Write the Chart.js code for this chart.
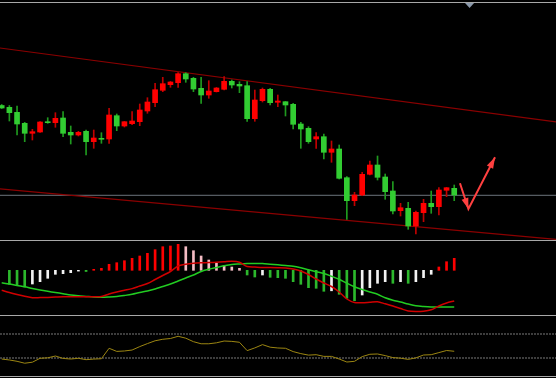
<!DOCTYPE html>
<html><head><meta charset="utf-8">
<script src="https://cdn.jsdelivr.net/npm/chart.js@4.4.0/dist/chart.umd.min.js"></script>
<style>
html,body{margin:0;padding:0;background:#fff;}
#wrap{position:relative;width:558px;height:379px;overflow:hidden;background:#fff;}
#bg{position:absolute;left:0;top:0;width:556px;height:378px;background:#000;}
.sep{position:absolute;left:0;width:556px;height:1px;background:#a8a8a8;}
canvas{position:absolute;left:0;}
</style></head><body>
<div id="wrap">
<div id="bg"></div>
<div class="sep" style="top:2px"></div>
<div class="sep" style="top:240px"></div>
<div class="sep" style="top:315px"></div>
<div class="sep" style="top:376px"></div>
<canvas id="c1" width="556" height="237" style="top:3px"></canvas>
<canvas id="c2" width="556" height="74" style="top:241px"></canvas>
<canvas id="c3" width="556" height="60" style="top:316px"></canvas>
</div>
<script>
// ---------- data ----------
const open = [113.45,113.27,112.77,111.67,110.67,110.80,111.83,111.73,112.20,110.77,
110.50,110.87,109.83,110.17,110.10,112.43,111.40,111.63,111.83,112.90,
113.73,114.97,115.53,115.73,116.63,116.17,115.17,114.50,114.83,115.07,
115.87,115.57,115.43,112.13,113.93,115.07,113.77,113.83,113.57,111.60,
111.17,110.10,110.33,108.77,109.10,106.23,103.93,104.50,106.57,107.50,
106.30,104.90,102.93,103.17,101.40,102.73,103.67,103.33,104.97,105.17];
const high = [113.55,113.45,113.40,111.77,111.07,111.85,112.23,112.73,112.83,111.40,
110.87,111.00,111.00,110.73,113.17,112.60,111.85,112.83,113.60,114.23,
115.67,116.27,115.85,116.73,116.73,116.27,116.27,115.93,115.25,116.33,
116.00,115.83,115.83,115.00,115.20,115.17,114.50,113.85,113.67,111.77,
111.33,110.73,110.60,109.90,109.50,106.33,104.77,106.77,107.90,108.40,
106.60,105.83,103.67,103.77,102.90,104.07,104.90,105.23,105.25,105.50];
const low = [113.15,111.90,110.50,109.83,110.00,110.75,111.67,111.27,110.33,109.60,
110.40,108.50,109.17,109.67,109.67,110.93,111.30,111.53,111.43,112.67,
113.33,114.83,115.27,115.27,115.77,114.83,113.67,114.17,114.80,115.00,
115.20,114.73,111.87,111.87,113.80,113.50,113.33,112.40,111.10,109.17,
109.67,109.17,108.10,107.77,106.10,102.07,103.43,104.43,106.50,106.00,
104.07,102.60,102.40,101.07,100.60,101.83,102.67,102.50,104.33,103.93];
const close = [113.20,112.73,111.60,110.67,110.83,111.80,111.73,112.17,110.67,110.50,
110.77,109.83,110.20,110.07,112.50,111.40,111.83,111.90,113.00,113.80,
115.03,115.63,115.80,116.63,116.10,115.10,114.50,114.90,115.20,115.87,
115.50,115.40,112.13,114.00,115.07,113.73,113.90,113.50,111.57,111.10,
109.83,110.33,108.77,109.10,106.17,103.93,104.50,106.57,107.50,106.27,
104.83,102.90,103.23,101.40,102.77,103.67,103.33,105.00,105.23,104.50];

const channelX = [-1, 73];
const channelUpper = [119.28, 111.73];
const channelLower = [105.17, 100.02];
const hLevel = 104.47;
const arrowX = [59.75, 60.85, 64.32];
const arrowY = [105.67, 103.10, 108.27];
const shiftMarkX = 61;

const hist = [null,-1.40,-1.45,-1.67,-1.37,-1.14,-0.80,-0.40,-0.34,-0.24,
-0.08,-0.12,0.10,0.20,0.60,0.76,0.96,1.20,1.43,1.70,
2.06,2.36,2.43,2.60,2.36,1.96,1.43,1.03,0.70,0.46,
0.33,0.20,-0.47,-0.67,-0.47,-0.70,-0.74,-0.80,-1.14,-1.40,
-1.74,-1.80,-2.10,-2.05,-2.40,-2.80,-3.04,-2.47,-1.74,-1.30,
-1.14,-1.30,-1.14,-1.30,-1.14,-0.74,-0.40,0.33,0.86,1.20];
const fastLine = [-1.99,-2.22,-2.42,-2.60,-2.74,-2.73,-2.71,-2.68,-2.65,-2.64,
-2.64,-2.64,-2.64,-2.62,-2.37,-2.17,-2.00,-1.83,-1.57,-1.32,
-0.92,-0.52,-0.12,0.43,0.60,0.70,0.75,0.77,0.80,0.85,
0.91,0.81,0.38,0.33,0.28,0.28,0.26,0.23,0.13,-0.07,
-0.42,-0.87,-1.27,-1.62,-2.17,-2.87,-3.22,-3.24,-3.19,-3.14,
-3.35,-3.57,-3.82,-4.07,-4.12,-4.09,-3.95,-3.57,-3.27,-3.07];
const slowLine = [-1.25,-1.37,-1.52,-1.65,-1.82,-1.97,-2.10,-2.22,-2.34,-2.47,
-2.55,-2.61,-2.67,-2.70,-2.67,-2.62,-2.52,-2.40,-2.22,-2.07,
-1.87,-1.62,-1.37,-1.07,-0.77,-0.47,-0.12,0.10,0.28,0.45,
0.58,0.63,0.67,0.69,0.67,0.61,0.55,0.48,0.41,0.25,
0.05,-0.14,-0.32,-0.60,-0.90,-1.29,-1.65,-1.92,-2.17,-2.40,
-2.75,-2.99,-3.17,-3.37,-3.54,-3.62,-3.67,-3.67,-3.67,-3.67];

const rsi = [28.3,26.7,24.5,21.3,23.0,29.5,30.3,33.3,29.3,28.3,
29.5,27.2,28.2,28.8,46.2,41.0,41.7,43.3,49.0,54.0,
58.7,61.2,62.5,66.2,63.0,57.2,53.7,53.7,55.3,58.3,
57.7,56.2,42.3,46.8,52.3,48.0,46.7,46.2,40.7,37.3,
34.8,35.5,32.7,32.7,28.3,23.3,24.5,32.3,36.2,36.7,
34.0,30.7,29.7,27.7,30.2,35.0,35.5,39.0,42.5,41.2];
const rsiLevels = [70, 30];

// ---------- view ----------
const X_MIN = -0.222, X_MAX = 72.27;
const idx = open.map((_, i) => i);

const UP_BODY = '#ff0000', DN_BODY = '#32cd32';
const UP_WICK = '#c00000', DN_WICK = '#1f9a1f';

function baseOpts(ymin, ymax) {
  return {
    responsive: false, animation: false, events: [],
    layout: { padding: 0 },
    plugins: { legend: { display: false }, tooltip: { enabled: false } },
    scales: {
      x: { type: 'linear', min: X_MIN, max: X_MAX, display: false, offset: false, grid: { offset: false } },
      y: { type: 'linear', min: ymin, max: ymax, display: false }
    }
  };
}

const arrowHeads = {
  id: 'arrowHeads',
  afterDatasetsDraw(chart) {
    const di = chart.data.datasets.findIndex(d => d.label === 'arrow');
    if (di < 0) return;
    const pts = chart.getDatasetMeta(di).data;
    const ctx = chart.ctx;
    const head = (a, b) => {
      const ang = Math.atan2(b.y - a.y, b.x - a.x);
      const L = 11, W = 3.5;
      ctx.beginPath();
      ctx.moveTo(b.x, b.y);
      ctx.lineTo(b.x - L * Math.cos(ang) + W * Math.sin(ang), b.y - L * Math.sin(ang) - W * Math.cos(ang));
      ctx.lineTo(b.x - L * Math.cos(ang) - W * Math.sin(ang), b.y - L * Math.sin(ang) + W * Math.cos(ang));
      ctx.closePath();
      ctx.fill();
    };
    ctx.save();
    ctx.fillStyle = '#ff4040';
    head(pts[0], pts[1]);
    head(pts[1], pts[2]);
    // chart shift marker
    const px = chart.scales.x.getPixelForValue(shiftMarkX);
    ctx.fillStyle = '#8a98aa';
    ctx.beginPath();
    ctx.moveTo(px - 4.5, 0); ctx.lineTo(px + 4.5, 0); ctx.lineTo(px, 5); ctx.closePath();
    ctx.fill();
    ctx.restore();
  }
};

// ---------- main price panel ----------
new Chart(document.getElementById('c1'), {
  data: {
    datasets: [
      { type: 'line', label: 'arrow', order: -1,
        data: arrowX.map((x, i) => ({ x, y: arrowY[i] })),
        borderColor: '#ff4040', borderWidth: 2, pointRadius: 0, tension: 0 },
      { type: 'bar', label: 'body', order: 0, grouped: false,
        data: idx.map(i => ({ x: i, y: [open[i], close[i]] })),
        backgroundColor: idx.map(i => close[i] >= open[i] ? UP_BODY : DN_BODY),
        barThickness: 5, minBarLength: 1, borderWidth: 0 },
      { type: 'bar', label: 'wick', order: 1, grouped: false,
        data: idx.map(i => ({ x: i, y: [low[i], high[i]] })),
        backgroundColor: idx.map(i => close[i] >= open[i] ? UP_WICK : DN_WICK),
        barThickness: 1, borderWidth: 0 },
      { type: 'line', label: 'upper', order: 2,
        data: channelX.map((x, i) => ({ x, y: channelUpper[i] })),
        borderColor: '#8b0000', borderWidth: 1.2, pointRadius: 0 },
      { type: 'line', label: 'lower', order: 2,
        data: channelX.map((x, i) => ({ x, y: channelLower[i] })),
        borderColor: '#8b0000', borderWidth: 1.2, pointRadius: 0 },
      { type: 'line', label: 'level', order: 3,
        data: channelX.map(x => ({ x, y: hLevel })),
        borderColor: '#6c747c', borderWidth: 1, pointRadius: 0 }
    ]
  },
  options: baseOpts(100, 123.7),
  plugins: [arrowHeads]
});

// ---------- histogram panel ----------
function histColor(i) {
  const v = hist[i], p = i > 0 ? hist[i - 1] : null;
  if (v >= 0) return (p === null || v > p) ? '#ff0000' : '#f4bcc4';
  return (p === null || v < p) ? '#2cb82c' : '#f2f2f2';
}
new Chart(document.getElementById('c2'), {
  data: {
    datasets: [
      { type: 'line', label: 'fast', order: 0,
        data: idx.map(i => ({ x: i, y: fastLine[i] })),
        borderColor: '#d00000', borderWidth: 1.5, pointRadius: 0, tension: 0.3 },
      { type: 'line', label: 'slow', order: 0,
        data: idx.map(i => ({ x: i, y: slowLine[i] })),
        borderColor: '#22cc22', borderWidth: 1.5, pointRadius: 0, tension: 0.3 },
      { type: 'bar', label: 'hist', order: 1,
        data: idx.map(i => ({ x: i, y: hist[i] })),
        backgroundColor: idx.map(histColor),
        barThickness: 2, borderWidth: 0 }
    ]
  },
  options: baseOpts(-4.47, 2.93)
});

// ---------- oscillator panel ----------
new Chart(document.getElementById('c3'), {
  data: {
    datasets: [
      { type: 'line', label: 'osc', order: 0,
        data: idx.map(i => ({ x: i, y: rsi[i] })),
        borderColor: '#9c8612', borderWidth: 1, pointRadius: 0, tension: 0 },
      ...rsiLevels.map(l => ({ type: 'line', label: 'lvl' + l, order: 1,
        data: [{ x: X_MIN, y: l }, { x: X_MAX, y: l }],
        borderColor: '#7a7a7a', borderWidth: 1, borderDash: [2, 1], pointRadius: 0 }))
    ]
  },
  options: baseOpts(0, 100)
});
</script>
</body></html>
